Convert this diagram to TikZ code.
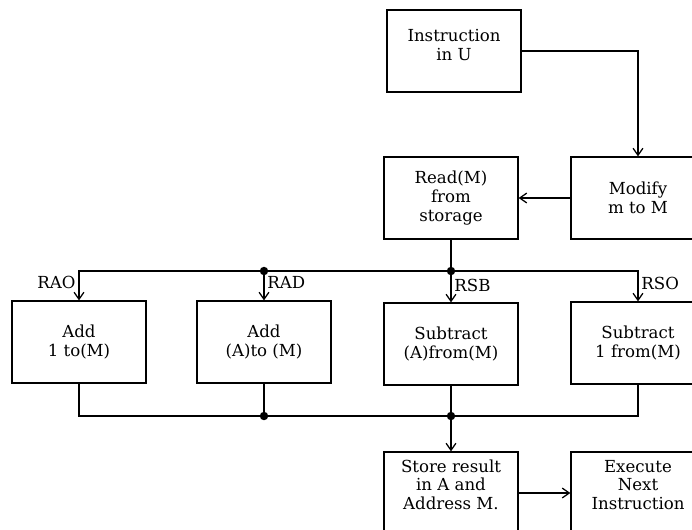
\documentclass[tikz,border=0pt]{standalone}
\usepackage{fontspec}
\setmainfont{DejaVu Serif}
\usetikzlibrary{arrows.meta,calc}
\tikzset{
  box/.style={draw, line width=0.9pt, minimum width=3.35cm, minimum height=2.05cm,
    align=center, font=\fontsize{11.8}{13.2}\selectfont},
  lab/.style={font=\fontsize{11.8}{13.2}\selectfont, inner sep=2pt},
  dot/.style={circle, fill, inner sep=0pt, minimum size=6pt}
}
\begin{document}
\begin{tikzpicture}[x=0.025cm,y=-0.025cm,line width=0.9pt,
    >={Straight Barb[length=5pt,width=7pt]}]
        \useasboundingbox (0,0) rectangle (692,529);
        % boxes
        \node[box,text depth=9pt] (instr) at (454,51) {Instruction\\in U};
        \node[box] (modify) at (638,198) {Modify\\m to M};
        \node[box] (read) at (451,198) {Read(M)\\from\\storage};
        \node[box] (add1) at (79,342) {Add\\1 to(M)};
        \node[box] (add2) at (264,342) {Add\\(A)to (M)};
        \node[box] (sub1) at (451,344) {Subtract\\(A)from(M)};
        \node[box] (sub2) at (638,343) {Subtract\\1 from(M)};
        \node[box,text depth=12pt] (store) at (451,493) {Store result\\in A and\\Address M.};
        \node[box,text depth=12pt] (exec) at (638,493) {Execute\\Next\\Instruction};
        % top bus
        \coordinate (tb) at (451,271);
        \coordinate (tb2) at (add2.north |- tb);
        \draw[->] (instr.east) -| (modify.north);
        \draw[->] (modify.west) -- (read.east);
        \draw (read.south) -- (tb);
        \draw[->] (tb) -| node[lab,pos=0.7,left] {RAO} (add1.north);
        \draw[->] (tb2) -- node[lab,pos=0.4,right] {RAD} (add2.north);
        \draw[->] (tb) -- node[lab,pos=0.45,right] {RSB} (sub1.north);
        \draw[->] (tb) -| node[lab,pos=0.7,right] {RSO} (sub2.north);
        \node[dot] at (tb) {};
        \node[dot] at (tb2) {};
        % bottom bus
        \coordinate (bb) at (451,416);
        \coordinate (bb2) at (add2.south |- bb);
        \draw (add1.south) |- (bb);
        \draw (sub2.south) |- (bb);
        \draw (sub1.south) -- (bb);
        \draw (add2.south) -- (bb2);
        \draw[->] (bb) -- (store.north);
        \node[dot] at (bb) {};
        \node[dot] at (bb2) {};
        \draw[->] (store.east) -- (exec.west);
    \end{tikzpicture}
\end{document}
